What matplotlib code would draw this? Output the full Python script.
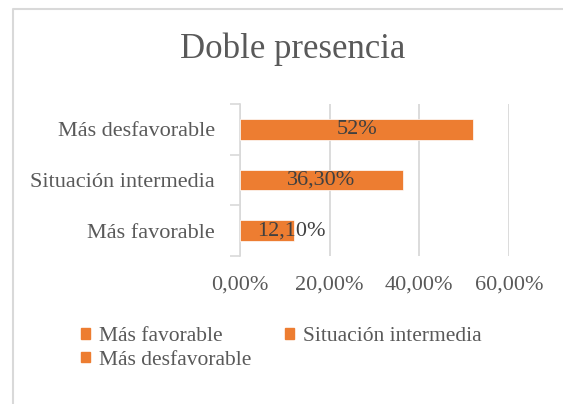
import matplotlib.pyplot as plt
from matplotlib.lines import Line2D
from matplotlib.patches import Patch

categories = ['Más favorable', 'Situación intermedia', 'Más desfavorable']
values = [12.1, 36.3, 52.0]
labels = ['12,10%', '36,30%', '52%']
xticks = [0, 20, 40, 60]
xticklabels = ['0,00%', '20,00%', '40,00%', '60,00%']

orange = '#ED7D31'
grey = '#595959'
plt.rcParams['font.family'] = ['Liberation Serif', 'DejaVu Serif']

fig = plt.figure(figsize=(5.63, 4.04), dpi=100)
W, H = 563, 404
ax = fig.add_axes([240 / W, 1 - 256 / H, (509 - 240) / W, (256 - 104) / H])

y = range(len(categories))
ax.barh(y, values, height=0.41, color=orange, edgecolor='white', linewidth=0.5, zorder=3)
for i, (v, t) in enumerate(zip(values, labels)):
    ax.text(max(v / 2, 11.4), i, t, ha='center', va='center', fontsize=16, color='#404040', zorder=4)

ax.set_xlim(0, 60)
ax.set_ylim(-0.5, 2.5)
ax.set_xticks(xticks)
ax.set_xticklabels(xticklabels, fontsize=16, color=grey)
ax.set_yticks(y)
ax.set_yticklabels(categories, fontsize=16, color=grey)
ax.set_yticks([-0.5, 0.5, 1.5, 2.5], minor=True)
ax.tick_params(axis='y', which='major', length=0, pad=18)
ax.tick_params(axis='y', which='minor', length=7, color='#d9d9d9', width=1.2)
ax.tick_params(axis='x', length=0, pad=14)
ax.grid(axis='x', color='#d9d9d9', linewidth=1.3, zorder=0)
for s in ['top', 'right', 'bottom']:
    ax.spines[s].set_visible(False)
ax.spines['left'].set_color('#d9d9d9')
ax.spines['left'].set_linewidth(1.2)

fig.text(293 / W, 1 - 49 / H, 'Doble presencia', ha='center', va='center', fontsize=25, color=grey)

# legend fills column by column, so reorder to read row by row
order = [0, 2, 1]
handles = [Patch(color=orange) for _ in order]
fig.legend(handles, [categories[k] for k in order], loc='upper left',
           bbox_to_anchor=(62 / W, 1 - 308 / H),
           ncol=2, frameon=False, fontsize=15.5, labelcolor=grey,
           handlelength=0.4, handleheight=0.4, handletextpad=0.4, columnspacing=1.6,
           labelspacing=0.2)

# chart border (left and top edge visible)
fig.add_artist(Line2D([12.5 / W, 12.5 / W, 1], [0, 1 - 9 / H, 1 - 9 / H],
                      transform=fig.transFigure, color='#d9d9d9', linewidth=1.5))

fig.savefig('out.png', dpi=100)
